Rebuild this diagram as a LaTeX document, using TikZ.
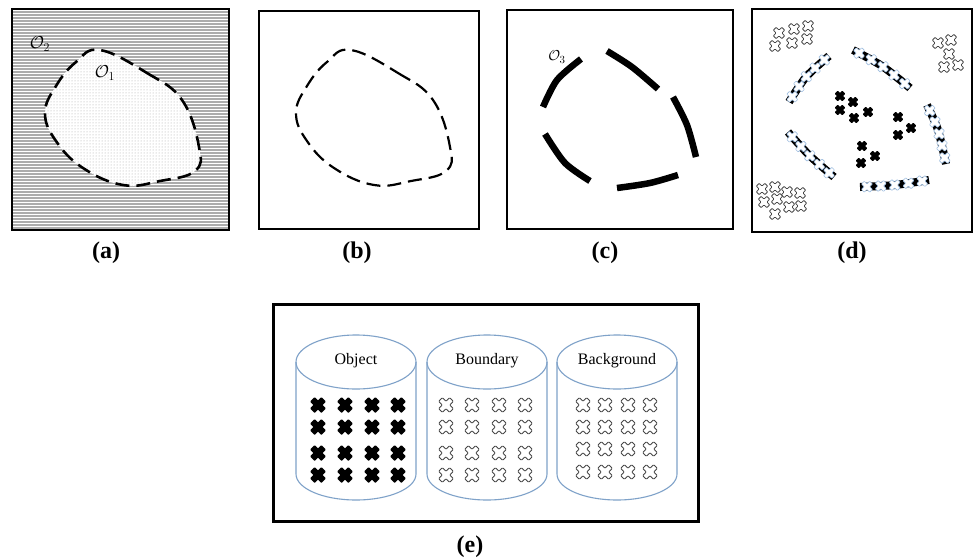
\documentclass[tikz,border=0pt]{standalone}
\usepackage{fontspec}
\setmainfont{Liberation Serif}
\usetikzlibrary{patterns,decorations.markings}
\definecolor{cylc}{HTML}{7FA2C9}
\definecolor{xblue}{HTML}{9DBDE0}
\tikzset{
  frame/.style={draw=black, line width=2.6pt},
  sublabel/.style={font=\fontsize{24}{28}\selectfont\bfseries, inner sep=0pt},
  cyltext/.style={font=\fontsize{16}{19}\selectfont, inner sep=0pt},
  olabel/.style={font=\fontsize{17}{19}\selectfont, inner sep=0pt},
  stripe/.style={draw=gray!65, line width=1.1pt},
  blobdash/.style={draw=black, line width=2.6pt, dash pattern=on 14pt off 7pt},
  blobdashb/.style={draw=black, line width=2.2pt, dash pattern=on 14pt off 7pt},
  thickseg/.style={draw=black, line width=6.5pt, line cap=butt},
  xshape/.pic={\path[pic actions, rotate=45] (-0.4,-1) -- (0.4,-1) -- (0.4,-0.4) -- (1,-0.4) -- (1,0.4) -- (0.4,0.4) -- (0.4,1) -- (-0.4,1) -- (-0.4,0.4) -- (-1,0.4) -- (-1,-0.4) -- (-0.4,-0.4) -- cycle;},
  hxshape/.pic={\path[pic actions, rotate=45] (-0.34,-1) -- (0.34,-1) -- (0.34,-0.34) -- (1,-0.34) -- (1,0.34) -- (0.34,0.34) -- (0.34,1) -- (-0.34,1) -- (-0.34,0.34) -- (-1,0.34) -- (-1,-0.34) -- (-0.34,-0.34) -- cycle;},
  bxs/.style={fill=black, rounded corners=0.6pt},
  gxs/.style={draw=gray!55!black, fill=white, line width=0.8pt, rounded corners=0.8pt},
  wxs/.style={draw=xblue, fill=white, line width=0.6pt, rounded corners=0.6pt},
  dseg/.style={draw=black, line width=8pt, line cap=butt, postaction={decorate},
    decoration={markings, mark=between positions 0.1 and 0.95 step 0.2 with {\pic[wxs, scale=5.8]{hxshape};}}},
  cylline/.style={draw=cylc, line width=1.1pt},
  cylpic/.pic={\draw[cylline] (0,0) ellipse [x radius=60, y radius=27];
               \draw[cylline] (-60,0) -- (-60,112) arc[start angle=180, end angle=0, x radius=60, y radius=26] -- (60,0);}
}
\begin{document}
\begin{tikzpicture}[x=1pt, y=-1pt]
\useasboundingbox (0,0) rectangle (975,558);
\fill[white] (0,0) rectangle (975,558);

% ---------- (a)
\foreach \yy in {12,15,...,228} { \draw[stripe] (13,\yy) -- (228,\yy); }
\fill[white] plot[smooth cycle, tension=0.7] coordinates {(100,50) (147,73) (182,100) (199,147) (195,171) (160,181) (123,185) (83,168) (56,141) (45,113) (56,86) (76,62)};
\fill[pattern=dots, pattern color=gray!70] plot[smooth cycle, tension=0.7] coordinates {(100,50) (147,73) (182,100) (199,147) (195,171) (160,181) (123,185) (83,168) (56,141) (45,113) (56,86) (76,62)};
\draw[blobdash] plot[smooth cycle, tension=0.7] coordinates {(100,50) (147,73) (182,100) (199,147) (195,171) (160,181) (123,185) (83,168) (56,141) (45,113) (56,86) (76,62)};
\draw[frame] (12,9) rectangle (229,230);
\node[olabel] (o2) at (40,44) {$\mathcal{O}_2$};
\node[olabel] (o1) at (105,73) {$\mathcal{O}_1$};
\node[sublabel] (la) at (106,253) {(a)};

% ---------- (b)
\begin{scope}[xshift=251pt]
\draw[blobdashb] plot[smooth cycle, tension=0.7] coordinates {(100,50) (147,73) (182,100) (199,147) (195,171) (160,181) (123,185) (83,168) (56,141) (45,113) (56,86) (76,62)};
\end{scope}
\draw[frame, line width=2.4pt] (259,11) rectangle (479,229);
\node[sublabel] (lb) at (357,253) {(b)};

% ---------- (c)
\draw[thickseg] plot[smooth] coordinates {(581,59) (557,80) (543,107)};
\draw[thickseg] plot[smooth] coordinates {(607,51) (632,67) (658,89)};
\draw[thickseg] plot[smooth] coordinates {(673,97) (687,125) (696,157)};
\draw[thickseg] plot[smooth] coordinates {(678,175) (650,183) (617,188)};
\draw[thickseg] plot[smooth] coordinates {(590,181) (565,163) (545,134)};
\draw[frame, line width=2.2pt] (507,10) rectangle (733,229);
\node[olabel, font=\fontsize{15}{17}\selectfont] (o3) at (557,57) {$\mathcal{O}_3$};
\node[sublabel] (lc) at (605,253) {(c)};

% ---------- (d)
\foreach \px/\py in {779/33, 794/29, 808/26, 775/46, 792/43, 807/39,
                     938/43, 951/40, 949/54, 944/67, 958/65,
                     762/189, 775/187, 787/192, 800/193, 764/202, 777/199, 789/207, 801/206, 775/214}
  { \pic[gxs, scale=6] at (\px,\py) {hxshape}; }
\foreach \px/\py in {840/96, 853/102, 840/110, 854/118, 868/112, 898/117, 911/128, 898/135, 862/146, 875/156, 861/163}
  { \pic[bxs, scale=5.4] at (\px,\py) {xshape}; }
\draw[dseg] plot[smooth] coordinates {(789,102) (806,77) (829,56)};
\draw[dseg] plot[smooth] coordinates {(853,50) (882,66) (910,88)};
\draw[dseg] plot[smooth] coordinates {(927,105) (938,130) (946,164)};
\draw[dseg] plot[smooth] coordinates {(860,187) (895,185) (929,180)};
\draw[dseg] plot[smooth] coordinates {(788,132) (809,155) (834,177)};
\draw[frame] (752,9) rectangle (972,232);
\node[sublabel] (ld) at (852,253) {(d)};

% ---------- (e)
\draw[frame, line width=3pt] (273,304) rectangle (698,521);
\pic at (356,362) {cylpic};
\pic at (487,362) {cylpic};
\pic at (617,362) {cylpic};
\node[cyltext] (tobj) at (356,361) {Object};
\node[cyltext] (tbnd) at (487,361) {Boundary};
\node[cyltext] (tbg) at (617,361) {Background};
\foreach \cx in {318,345,372,398} {
  \foreach \cy in {405,427,453,475} { \pic[bxs, scale=8] at (\cx,\cy) {xshape}; }
}
\foreach \cx in {446,472,499,525} {
  \foreach \cy in {405,427,453,475} { \pic[gxs, scale=7.8] at (\cx,\cy) {hxshape}; }
}
\foreach \cx in {583,605,628,650} {
  \foreach \cy in {405,427,449,472} { \pic[gxs, scale=7.8] at (\cx,\cy) {hxshape}; }
}
\node[sublabel] (le) at (470,547) {(e)};
\end{tikzpicture}
\end{document}
